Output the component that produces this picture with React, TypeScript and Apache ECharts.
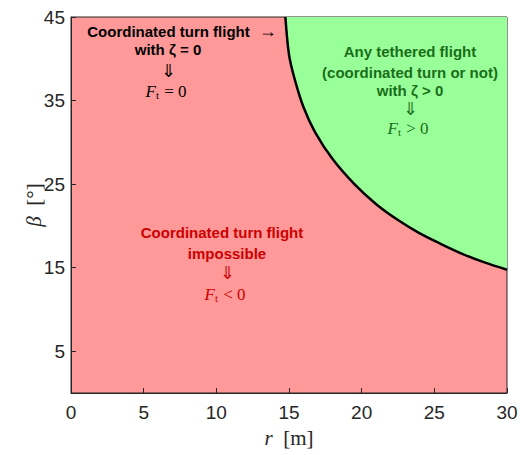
import React, { useEffect, useRef } from "react";
import * as echarts from "echarts";

const rValues = [14.75, 15.0, 15.4, 16.0, 16.8, 18.0, 19.5, 21.0, 22.5, 24.0, 25.5, 27.0, 28.5, 30.0];
const betaValues = [45, 40.5, 37.5, 34.2, 31.2, 28.0, 25.0, 22.6, 20.7, 19.1, 17.8, 16.6, 15.6, 14.75];
const xTicks = [0, 5, 10, 15, 20, 25, 30];
const yTicks = [5, 15, 25, 35, 45];

const SANS = "Liberation Sans, Arial, Helvetica, sans-serif";
const SERIF = "Liberation Serif, Times New Roman, serif";

function ftRich(color: string, rest: string, x: number, y: number) {
  return {
    type: "text",
    x,
    y,
    z: 100,
    style: {
      text: `{i|F}{s|t}{n|${rest}}`,
      align: "center",
      verticalAlign: "middle",
      fill: color,
      rich: {
        i: { fontFamily: SERIF, fontStyle: "italic", fontSize: 17, fill: color },
        s: { fontFamily: SERIF, fontSize: 11, fill: color, padding: [7, 1, 0, 0] },
        n: { fontFamily: SERIF, fontSize: 17, fill: color },
      },
    },
  };
}

function label(text: string, x: number, y: number, color: string, size = 15, bold = true, font = SANS) {
  return {
    type: "text",
    x,
    y,
    z: 100,
    style: {
      text,
      align: "center",
      verticalAlign: "middle",
      fill: color,
      fontSize: size,
      fontWeight: bold ? "bold" : "normal",
      fontFamily: font,
    },
  };
}

export default function App() {
  const ref = useRef<HTMLDivElement>(null);
  useEffect(() => {
    if (!ref.current) return;
    const chart = echarts.init(ref.current, null, { renderer: "svg" });
    const data = rValues.map((r, i) => [r, betaValues[i]]);
    const black = "#000";
    const green = "#1a6e1a";
    const red = "#cc0000";
    chart.setOption({
      animation: false,
      grid: {
        left: 71,
        right: 14,
        top: 17,
        bottom: 62,
        show: true,
        backgroundColor: "#ff9999",
        borderColor: "#262626",
        borderWidth: 1,
        containLabel: false,
      },
      xAxis: {
        type: "value",
        min: 0,
        max: 30,
        interval: 5,
        name: "{i|r}{n|  [m]}",
        nameLocation: "middle",
        nameGap: 34,
        nameMoveOverlap: false,
        nameTextStyle: {
          rich: {
            i: { fontFamily: SERIF, fontStyle: "italic", fontSize: 21, color: "#262626" },
            n: { fontFamily: SERIF, fontSize: 21, color: "#262626" },
          },
        },
        axisLine: { show: true, lineStyle: { color: "#262626" } },
        axisTick: { show: true, inside: true, length: 5, lineStyle: { color: "#262626" }, customValues: xTicks },
        axisLabel: { customValues: xTicks, color: "#262626", fontFamily: SANS, fontSize: 19, margin: 10 },
        splitLine: { show: false },
      },
      yAxis: {
        type: "value",
        min: 0,
        max: 45,
        name: "{i|β}{n|  [°]}",
        nameLocation: "middle",
        nameGap: 27,
        nameRotate: 90,
        nameMoveOverlap: false,
        nameTextStyle: {
          rich: {
            i: { fontFamily: SERIF, fontStyle: "italic", fontSize: 21, color: "#262626" },
            n: { fontFamily: SERIF, fontSize: 21, color: "#262626" },
          },
        },
        axisLine: { show: true, lineStyle: { color: "#262626" } },
        axisTick: { show: true, inside: true, length: 5, lineStyle: { color: "#262626" }, customValues: yTicks },
        axisLabel: { customValues: yTicks, color: "#262626", fontFamily: SANS, fontSize: 19, margin: 6 },
        splitLine: { show: false },
      },
      series: [
        {
          type: "line",
          data,
          smooth: 0.3,
          showSymbol: false,
          lineStyle: { color: black, width: 2.5 },
          areaStyle: { color: "#99ff99", opacity: 1, origin: "end" },
          z: 3,
        },
      ],
      graphic: [
        {
          type: "text",
          x: 182,
          y: 31,
          z: 100,
          style: {
            text: "{b|Coordinated turn flight}{a|  →}",
            align: "center",
            verticalAlign: "middle",
            rich: {
              b: { fontFamily: SANS, fontWeight: "bold", fontSize: 15, fill: black },
              a: { fontFamily: SERIF, fontSize: 18, fill: black },
            },
          },
        },
        label("with ζ = 0", 168, 49, black),
        label("⇓", 168, 71, black, 18, false, SERIF),
        ftRich(black, " = 0", 166, 91),
        label("Any tethered flight", 410, 51, green),
        label("(coordinated turn or not)", 410, 72, green),
        label("with ζ > 0", 410, 90, green),
        label("⇓", 410, 109, green, 18, false, SERIF),
        ftRich(green, " > 0", 408, 128),
        label("Coordinated turn flight", 222, 232, red),
        label("impossible", 227, 253, red),
        label("⇓", 227, 273, red, 18, false, SERIF),
        ftRich(red, " < 0", 225, 294),
      ],
    });
    return () => chart.dispose();
  }, []);
  return <div ref={ref} style={{ width: 521, height: 455, position: "absolute", left: 0, top: 0 }} />;
}
